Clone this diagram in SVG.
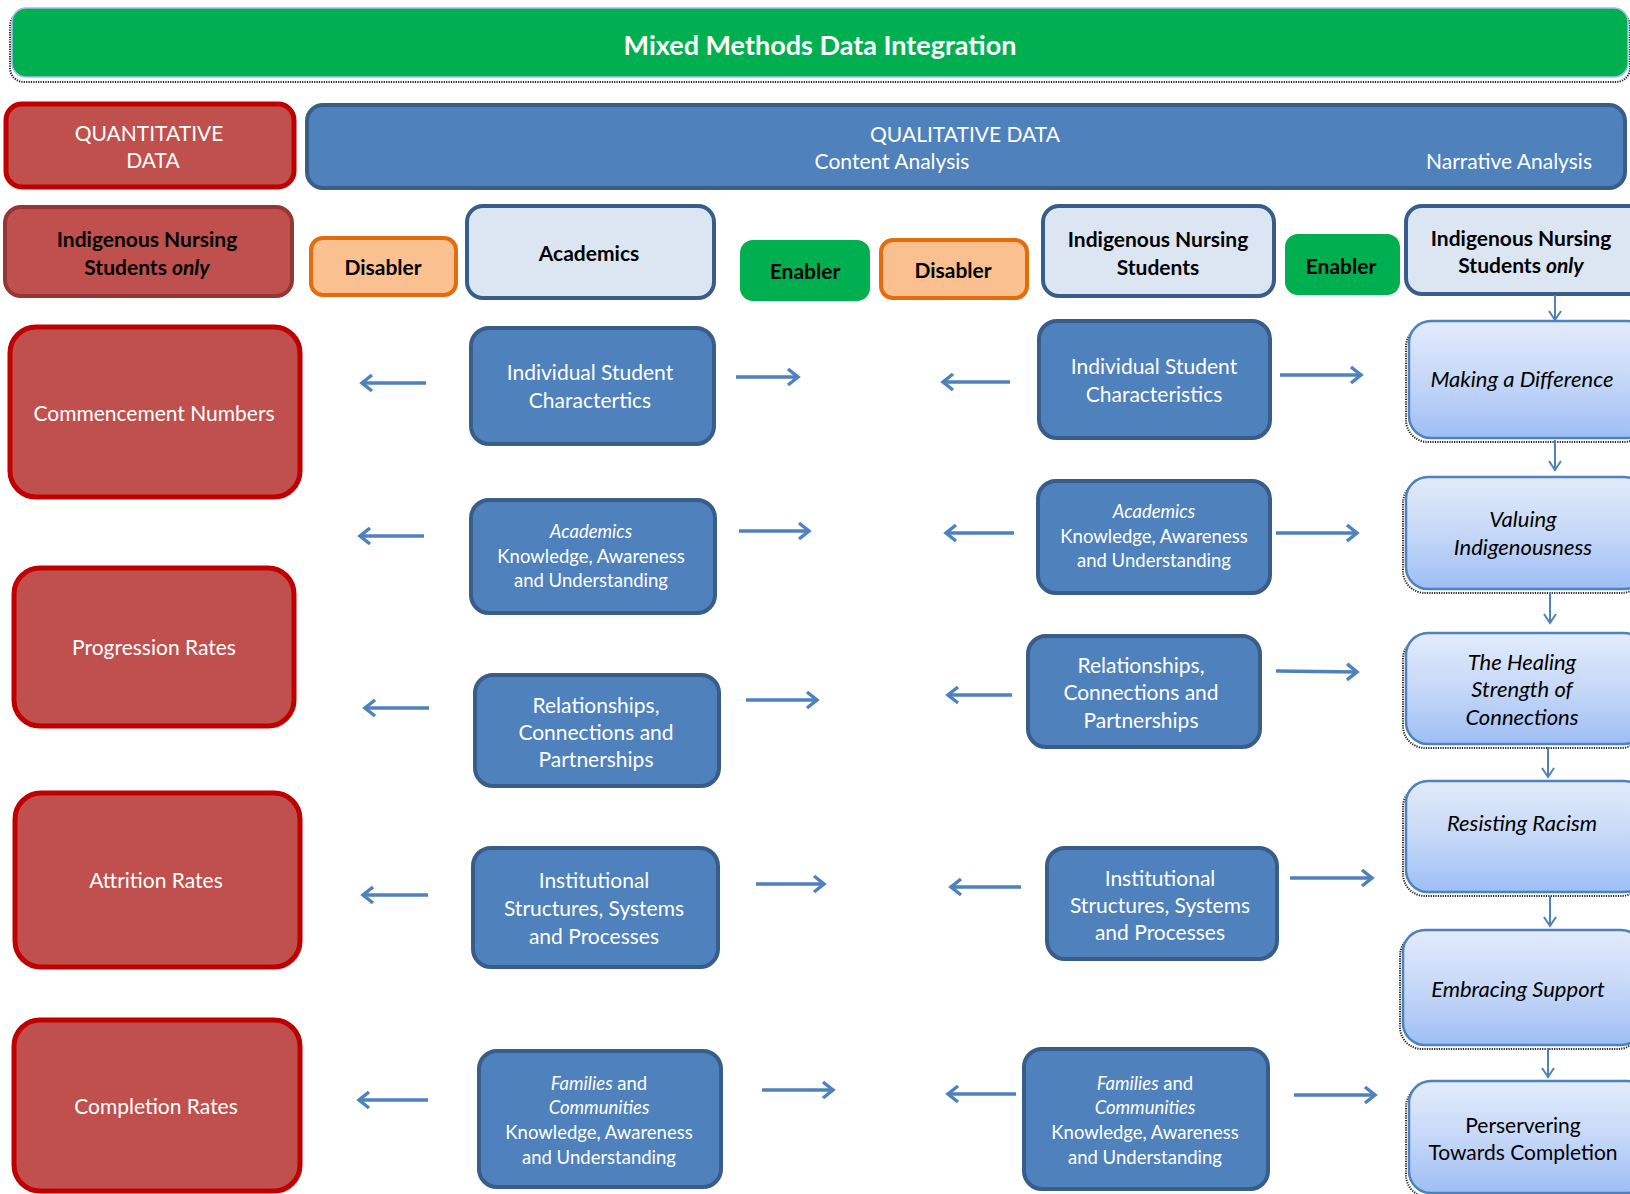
<svg xmlns="http://www.w3.org/2000/svg" width="1630" height="1194" viewBox="0 0 1630 1194">
<style>
text{font-family:Lato,"Liberation Sans",sans-serif;text-anchor:middle;dominant-baseline:central}
.w{fill:#fff;font-size:21px}
.ws{fill:#fff;font-size:18.5px}
.b{fill:#000;font-size:21px;font-weight:bold}
.n{fill:#000;font-size:22px;font-style:italic}
.red{fill:#C0504D;stroke:#C00000;stroke-width:5}
.blue{fill:#4F81BD;stroke:#385D8A;stroke-width:4}
.lb{fill:#DCE6F2;stroke:#385D8A;stroke-width:4}
.dis{fill:#FAC090;stroke:#E46C0A;stroke-width:4}
.en{fill:#00B050;stroke:#00B050;stroke-width:2}
.nar{fill:url(#g);stroke:#4F81BD;stroke-width:2.5}
.sh{fill:none;stroke:#222;stroke-width:2;stroke-dasharray:1.2 1.2}
.ar{stroke:#4F81BD;stroke-width:3.5;fill:none;marker-end:url(#ah)}
.dn{stroke:#4F81BD;stroke-width:2;fill:none;marker-end:url(#ahs)}
</style>
<defs>
<linearGradient id="g" x1="0" y1="0" x2="0" y2="1">
<stop offset="0" stop-color="#E2EBFA"/>
<stop offset="0.5" stop-color="#C6D8F8"/>
<stop offset="1" stop-color="#9EBEF5"/>
</linearGradient>
<marker id="ah" markerUnits="userSpaceOnUse" markerWidth="16" markerHeight="20" refX="13" refY="10" orient="auto">
<path d="M3,2 L13,10 L3,18" fill="none" stroke="#4F81BD" stroke-width="3.5"/>
</marker>
<marker id="ahs" markerUnits="userSpaceOnUse" markerWidth="16" markerHeight="16" refX="12" refY="8" orient="auto">
<path d="M3,2 L12,8 L3,14" fill="none" stroke="#4F81BD" stroke-width="2"/>
</marker>
</defs>
<rect width="1630" height="1194" fill="#fff"/>

<g id="title">
<rect x="10" y="12" width="1620" height="70" rx="14" class="sh"/>
<rect x="12" y="8" width="1616" height="69" rx="14" fill="#00B050" stroke="#9DBDF5" stroke-width="1.5"/>
<text x="820" y="44" fill="#fff" font-size="27" font-weight="bold">Mixed Methods Data Integration</text>
</g>

<g id="quant">
<rect x="6" y="104" width="288" height="83" rx="16" class="red"/>
<text class="w"><tspan x="149" y="132">QUANTITATIVE</tspan><tspan x="153" y="159">DATA</tspan></text>
</g>

<g id="qual">
<rect x="307" y="105" width="1318" height="83" rx="16" class="blue"/>
<text class="w" x="965" y="133">QUALITATIVE DATA</text>
<text class="w" x="892" y="160">Content Analysis</text>
<text class="w" x="1509" y="160">Narrative Analysis</text>
</g>

<g id="hdr-quant">
<rect x="5" y="207" width="287" height="89" rx="16" fill="#C0504D" stroke="#943634" stroke-width="4"/>
<text class="b"><tspan x="147" y="238">Indigenous Nursing</tspan><tspan x="147" y="266">Students <tspan font-style="italic">only</tspan></tspan></text>
</g>

<g id="hdr-disabler1">
<rect x="311" y="238" width="145" height="57" rx="12" class="dis"/>
<text class="b" x="383" y="266">Disabler</text>
</g>

<g id="hdr-academics">
<rect x="467" y="206" width="247" height="92" rx="16" class="lb"/>
<text class="b" x="589" y="252">Academics</text>
</g>

<g id="hdr-enabler1">
<rect x="741" y="241" width="128" height="59" rx="12" class="en"/>
<text class="b" x="805" y="270">Enabler</text>
</g>

<g id="hdr-disabler2">
<rect x="881" y="240" width="146" height="58" rx="12" class="dis"/>
<text class="b" x="953" y="269">Disabler</text>
</g>

<g id="hdr-students">
<rect x="1043" y="206" width="231" height="90" rx="16" class="lb"/>
<text class="b"><tspan x="1158" y="238">Indigenous Nursing</tspan><tspan x="1158" y="266">Students</tspan></text>
</g>

<g id="hdr-enabler2">
<rect x="1286" y="235" width="113" height="59" rx="12" class="en"/>
<text class="b" x="1341" y="265">Enabler</text>
</g>

<g id="hdr-narr">
<rect x="1406" y="206" width="240" height="88" rx="16" class="lb"/>
<text class="b"><tspan x="1521" y="237">Indigenous Nursing</tspan><tspan x="1521" y="264">Students <tspan font-style="italic">only</tspan></tspan></text>
</g>

<g id="q-commencement">
<rect x="10" y="327" width="290" height="170" rx="26" class="red"/>
<text class="w" x="154" y="412">Commencement Numbers</text>
</g>
<g id="q-progression">
<rect x="14" y="568" width="280" height="158" rx="26" class="red"/>
<text class="w" x="154" y="646">Progression Rates</text>
</g>
<g id="q-attrition">
<rect x="15" y="793" width="285" height="174" rx="26" class="red"/>
<text class="w" x="156" y="879">Attrition Rates</text>
</g>
<g id="q-completion">
<rect x="14" y="1020" width="286" height="171" rx="26" class="red"/>
<text class="w" x="156" y="1105">Completion Rates</text>
</g>

<g id="a-individual">
<rect x="471" y="328" width="243" height="116" rx="18" class="blue"/>
<text class="w"><tspan x="590" y="371">Individual Student</tspan><tspan x="590" y="399">Charactertics</tspan></text>
</g>
<g id="a-kau">
<rect x="471" y="500" width="244" height="113" rx="18" class="blue"/>
<text class="ws"><tspan x="591" y="531" font-style="italic">Academics</tspan><tspan x="591" y="556">Knowledge, Awareness</tspan><tspan x="591" y="580">and Understanding</tspan></text>
</g>
<g id="a-relationships">
<rect x="475" y="675" width="244" height="111" rx="18" class="blue"/>
<text class="w"><tspan x="596" y="704">Relationships,</tspan><tspan x="596" y="731">Connections and</tspan><tspan x="596" y="758">Partnerships</tspan></text>
</g>
<g id="a-institutional">
<rect x="473" y="848" width="245" height="119" rx="18" class="blue"/>
<text class="w"><tspan x="594" y="879">Institutional</tspan><tspan x="594" y="907">Structures, Systems</tspan><tspan x="594" y="935">and Processes</tspan></text>
</g>
<g id="a-families">
<rect x="479" y="1051" width="242" height="136" rx="18" class="blue"/>
<text class="ws"><tspan x="599" y="1083"><tspan font-style="italic">Families</tspan> and</tspan><tspan x="599" y="1107" font-style="italic">Communities</tspan><tspan x="599" y="1132">Knowledge, Awareness</tspan><tspan x="599" y="1157">and Understanding</tspan></text>
</g>

<g id="s-individual">
<rect x="1039" y="321" width="231" height="117" rx="18" class="blue"/>
<text class="w"><tspan x="1154" y="365">Individual Student</tspan><tspan x="1154" y="393">Characteristics</tspan></text>
</g>
<g id="s-kau">
<rect x="1038" y="481" width="232" height="112" rx="18" class="blue"/>
<text class="ws"><tspan x="1154" y="511" font-style="italic">Academics</tspan><tspan x="1154" y="536">Knowledge, Awareness</tspan><tspan x="1154" y="560">and Understanding</tspan></text>
</g>
<g id="s-relationships">
<rect x="1028" y="636" width="232" height="111" rx="18" class="blue"/>
<text class="w"><tspan x="1141" y="664">Relationships,</tspan><tspan x="1141" y="691">Connections and</tspan><tspan x="1141" y="719">Partnerships</tspan></text>
</g>
<g id="s-institutional">
<rect x="1047" y="848" width="230" height="111" rx="18" class="blue"/>
<text class="w"><tspan x="1160" y="877">Institutional</tspan><tspan x="1160" y="904">Structures, Systems</tspan><tspan x="1160" y="931">and Processes</tspan></text>
</g>
<g id="s-families">
<rect x="1024" y="1049" width="244" height="140" rx="18" class="blue"/>
<text class="ws"><tspan x="1145" y="1083"><tspan font-style="italic">Families</tspan> and</tspan><tspan x="1145" y="1107" font-style="italic">Communities</tspan><tspan x="1145" y="1132">Knowledge, Awareness</tspan><tspan x="1145" y="1157">and Understanding</tspan></text>
</g>

<g id="n-making">
<rect x="1406" y="325" width="240" height="117" rx="22" class="sh"/>
<rect x="1409" y="321" width="240" height="117" rx="22" class="nar"/>
<text class="n" x="1522" y="378">Making a Difference</text>
</g>
<g id="n-valuing">
<rect x="1403" y="481" width="240" height="112" rx="22" class="sh"/>
<rect x="1406" y="477" width="240" height="112" rx="22" class="nar"/>
<text class="n"><tspan x="1523" y="518">Valuing</tspan><tspan x="1523" y="546">Indigenousness</tspan></text>
</g>
<g id="n-healing">
<rect x="1403" y="637" width="240" height="111" rx="22" class="sh"/>
<rect x="1406" y="633" width="240" height="111" rx="22" class="nar"/>
<text class="n"><tspan x="1522" y="661">The Healing</tspan><tspan x="1522" y="688">Strength of</tspan><tspan x="1522" y="716">Connections</tspan></text>
</g>
<g id="n-resisting">
<rect x="1403" y="785" width="240" height="111" rx="22" class="sh"/>
<rect x="1406" y="781" width="240" height="111" rx="22" class="nar"/>
<text class="n" x="1522" y="822">Resisting Racism</text>
</g>
<g id="n-embracing">
<rect x="1400" y="934" width="240" height="115" rx="22" class="sh"/>
<rect x="1403" y="930" width="240" height="115" rx="22" class="nar"/>
<text class="n" x="1518" y="988">Embracing Support</text>
</g>
<g id="n-perservering">
<rect x="1406" y="1085" width="240" height="112" rx="22" class="sh"/>
<rect x="1409" y="1081" width="240" height="112" rx="22" class="nar"/>
<text fill="#000" font-size="21"><tspan x="1523" y="1124">Perservering</tspan><tspan x="1523" y="1151">Towards Completion</tspan></text>
</g>

<g id="connectors">
<line class="ar" x1="426" y1="383" x2="362" y2="383"/>
<line class="ar" x1="424" y1="536" x2="360" y2="536"/>
<line class="ar" x1="429" y1="708" x2="365" y2="708"/>
<line class="ar" x1="428" y1="895" x2="363" y2="895"/>
<line class="ar" x1="428" y1="1100" x2="359" y2="1100"/>

<line class="ar" x1="736" y1="377" x2="798" y2="377"/>
<line class="ar" x1="739" y1="531" x2="809" y2="531"/>
<line class="ar" x1="746" y1="700" x2="817" y2="700"/>
<line class="ar" x1="756" y1="884" x2="824" y2="884"/>
<line class="ar" x1="762" y1="1090" x2="833" y2="1090"/>

<line class="ar" x1="1010" y1="382" x2="943" y2="382"/>
<line class="ar" x1="1014" y1="533" x2="946" y2="533"/>
<line class="ar" x1="1012" y1="695" x2="948" y2="695"/>
<line class="ar" x1="1021" y1="887" x2="951" y2="887"/>
<line class="ar" x1="1016" y1="1094" x2="948" y2="1094"/>

<line class="ar" x1="1280" y1="375" x2="1361" y2="375"/>
<line class="ar" x1="1276" y1="533" x2="1357" y2="533"/>
<line class="ar" x1="1276" y1="671" x2="1357" y2="672"/>
<line class="ar" x1="1290" y1="878" x2="1372" y2="878"/>
<line class="ar" x1="1294" y1="1095" x2="1375" y2="1095"/>

<line class="dn" x1="1555" y1="295" x2="1555" y2="320"/>
<line class="dn" x1="1555" y1="440" x2="1555" y2="470"/>
<line class="dn" x1="1550" y1="592" x2="1550" y2="623"/>
<line class="dn" x1="1548" y1="747" x2="1548" y2="777"/>
<line class="dn" x1="1550" y1="896" x2="1550" y2="926"/>
<line class="dn" x1="1548" y1="1048" x2="1548" y2="1077"/>
</g>
</svg>
